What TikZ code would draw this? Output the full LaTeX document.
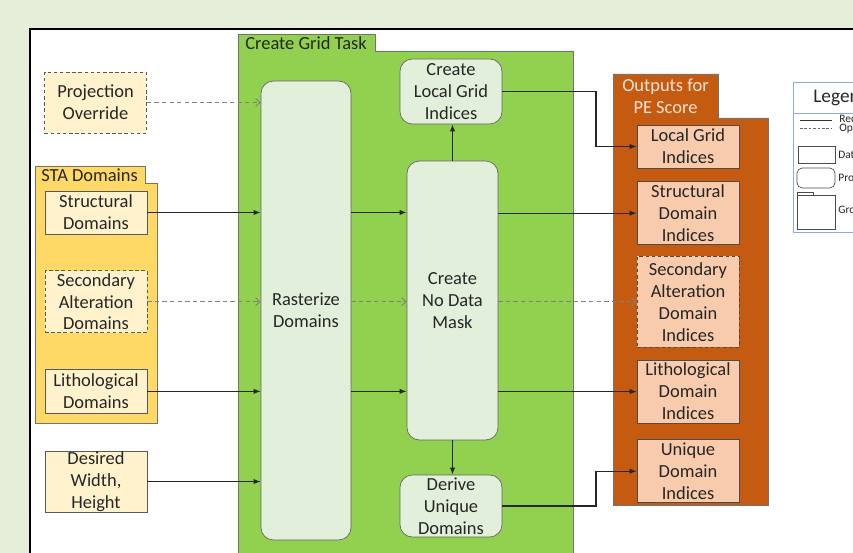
\documentclass[tikz,border=0pt]{standalone}
\usepackage{fontspec}
\setmainfont{Carlito}
\usetikzlibrary{positioning, arrows.meta}
\definecolor{pagegreen}{HTML}{E4EED9}
\definecolor{datafill}{HTML}{FFF2CC}
\definecolor{stafill}{HTML}{FFD966}
\definecolor{taskgreen}{HTML}{92D050}
\definecolor{procfill}{HTML}{E2EFDA}
\definecolor{outorange}{HTML}{C55A11}
\definecolor{outfill}{HTML}{F8CBAD}
\definecolor{outlabel}{HTML}{FCE4D6}
\definecolor{inktext}{HTML}{262626}
\definecolor{legendblue}{HTML}{8FAADC}

\begin{document}
\begin{tikzpicture}[
        x=0.02cm, y=-0.02cm,
        font=\fontsize{10.5}{12.5}\selectfont, text=inktext,
        data/.style={rectangle, draw=black!65, fill=datafill, minimum width=2.04cm, align=center, inner sep=0pt},
        outbox/.style={rectangle, draw=black!70, fill=outfill, minimum width=2.04cm, align=center, inner sep=0pt},
        proc/.style={rectangle, rounded corners=7pt, draw=black!60, fill=procfill, align=center, inner sep=0pt},
        grp/.style={draw=black!55, line width=0.5pt},
        dashbox/.style={dash pattern=on 2pt off 1.5pt},
        legtext/.style={anchor=west, inner sep=0pt, font=\fontsize{6.5}{7.5}\selectfont},
        req/.style={-{Latex[length=4pt, width=3pt]}, draw=black!85, line width=0.6pt},
        opt/.style={-{Straight Barb[length=2.5pt, width=4.5pt]}, draw=black!50, line width=0.5pt, dash pattern=on 2.5pt off 1.8pt}
    ]
        \useasboundingbox (0,0) rectangle (853,553);
        \clip (0,0) rectangle (853,553);
        \fill[pagegreen] (0,0) rectangle (853,553);
        \draw[fill=white, line width=1.4pt] (30,29) rectangle (900,600);

        % groups
        \draw[grp, fill=stafill] (35,166) -- (145,166) -- (145,183) -- (157,183) -- (157,423) -- (35,423) -- cycle;
        \node[anchor=west, inner sep=0pt] (stalabel) at (41,175) {STA Domains};
        \draw[grp, fill=taskgreen] (238,34) -- (375,34) -- (375,51) -- (573,51) -- (573,600) -- (238,600) -- cycle;
        \node[anchor=west, inner sep=0pt] (tasklabel) at (245,43) {Create Grid Task};
        \draw[grp, fill=outorange] (613,74) -- (718,74) -- (718,118) -- (768,118) -- (768,505) -- (613,505) -- cycle;
        \node[align=center, text=outlabel, inner sep=0pt] (outlabel) at (665.5,96) {Outputs for\\PE Score};

        % inputs
        \node[data, dashbox, minimum height=1.22cm] (proj) at (95.5,102.5) {Projection\\Override};
        \node[data, minimum height=0.86cm] (strd) at (96,212.5) {Structural\\Domains};
        \node[data, dashbox, minimum height=1.24cm, below=0.72cm of strd] (secd) {Secondary\\Alteration\\Domains};
        \node[data, minimum height=0.88cm, below=0.72cm of secd] (litd) {Lithological\\Domains};
        \node[data, minimum height=1.22cm, below=0.74cm of litd] (dwh) {Desired\\Width,\\Height};

        % processes
        \node[proc, minimum width=1.8cm, minimum height=9.18cm] (ras) at (306,310.5) {Rasterize\\Domains};
        \node[proc, minimum width=2.04cm, minimum height=1.3cm] (cgi) at (451,91.5) {Create\\Local Grid\\Indices};
        \node[proc, minimum width=1.82cm, minimum height=5.58cm] (ndm) at (452.5,300.5) {Create\\No Data\\Mask};
        \node[proc, minimum width=2.04cm, minimum height=1.24cm] (dud) at (451,506) {Derive\\Unique\\Domains};

        % outputs
        \node[outbox, minimum height=0.86cm] (olgi) at (688,146.5) {Local Grid\\Indices};
        \node[outbox, minimum height=1.26cm, below=0.26cm of olgi] (osdi) {Structural\\Domain\\Indices};
        \node[outbox, dashbox, minimum height=1.82cm, below=0.22cm of osdi] (osadi) {Secondary\\Alteration\\Domain\\Indices};
        \node[outbox, minimum height=1.26cm, below=0.24cm of osadi] (oldi) {Lithological\\Domain\\Indices};
        \node[outbox, minimum height=1.26cm, below=0.32cm of oldi] (oudi) {Unique\\Domain\\Indices};

        \coordinate (elbow) at (596,300);

        \draw[opt] (proj.east) -- (proj.east -| ras.west);
        \draw[req] (strd.east) -- (strd.east -| ras.west);
        \draw[opt] (secd.east) -- (secd.east -| ras.west);
        \draw[req] (litd.east) -- (litd.east -| ras.west);
        \draw[req] (dwh.east) -- (dwh.east -| ras.west);
        \draw[req] (strd.east -| ras.east) -- (strd.east -| ndm.west);
        \draw[opt] (secd.east -| ras.east) -- (secd.east -| ndm.west);
        \draw[req] (litd.east -| ras.east) -- (litd.east -| ndm.west);
        \draw[req] (ndm.north) -- (ndm.north |- cgi.south);
        \draw[req] (ndm.south) -- (ndm.south |- dud.north);
        \draw[req] (cgi.east) -- (cgi.east -| elbow) |- (olgi.west);
        \draw[req] (ndm.east |- osdi.west) -- (osdi.west);
        \draw[opt] (ndm.east |- osadi.west) -- (osadi.west);
        \draw[req] (ndm.east |- oldi.west) -- (oldi.west);
        \draw[req] (dud.east) -- (dud.east -| elbow) |- (oudi.west);

        % legend
        \draw[legendblue, fill=white] (793,82) rectangle (900,232);
        \draw[legendblue] (793,113) -- (900,113);
        \node[anchor=west, inner sep=0pt, font=\fontsize{11}{13}\selectfont] (legtitle) at (813,97) {Legend};
        \draw[black!80] (800,120) -- (832,120);
        \node[legtext] (legreq) at (839,119) {Required};
        \draw[black!60, dash pattern=on 1.5pt off 1pt] (800,128) -- (832,128);
        \node[legtext] (legopt) at (839,128) {Optional};
        \draw[black!70] (798,146) rectangle (835,163);
        \node[legtext] (legdata) at (838,155) {Data};
        \draw[black!70, rounded corners=3pt] (797,168) rectangle (835,188);
        \node[legtext] (legproc) at (838,178) {Process};
        \draw[black!70] (797,195) rectangle (835,229);
        \draw[black!70] (797,195) -- (797,192) -- (813,192) -- (813,195);
        \node[legtext] (leggrp) at (838,211) {Group};
    \end{tikzpicture}
\end{document}
